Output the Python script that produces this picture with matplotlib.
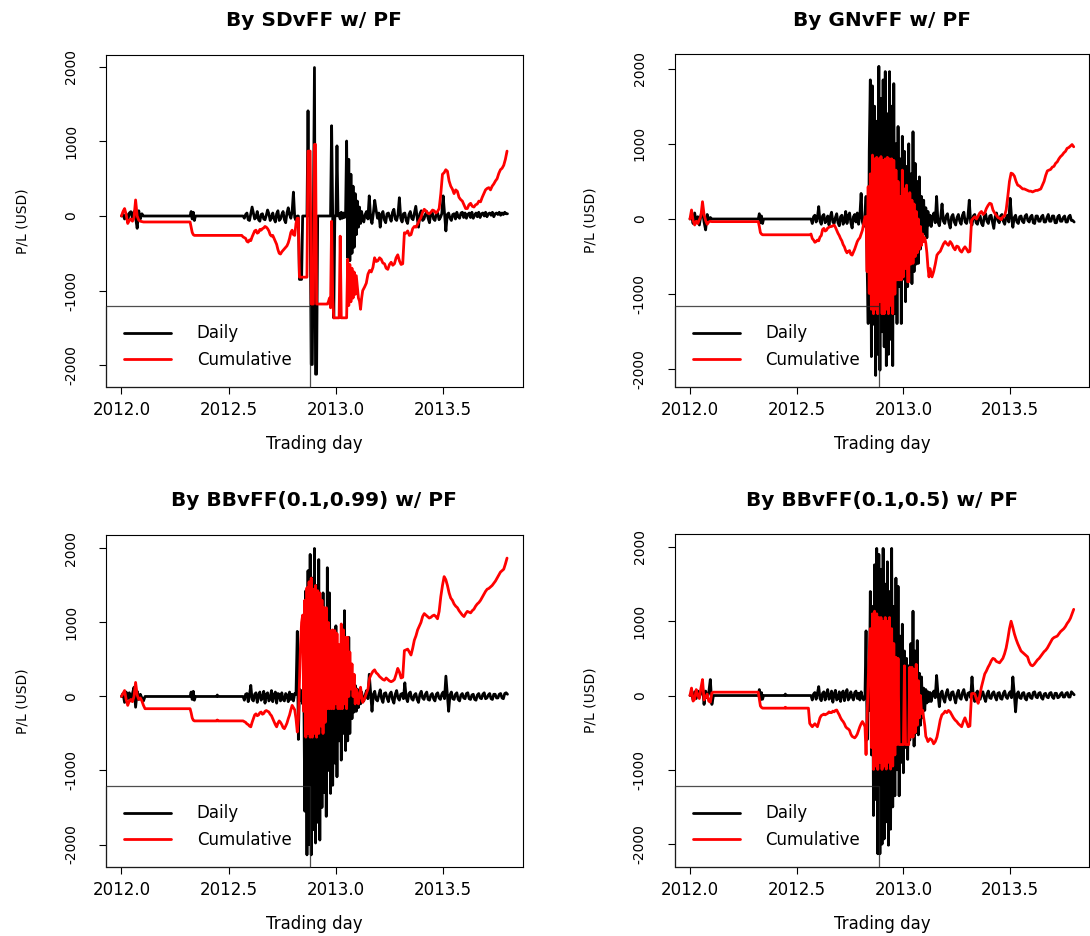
import numpy as np
import matplotlib
matplotlib.use("Agg")
import matplotlib.pyplot as plt

plt.rcParams['font.family'] = ['DejaVu Sans']
plt.rcParams['axes.unicode_minus'] = False

# date ranges (decimal year) of the trading stretches; each list below is spread evenly over its range
EARLY = (2012.0, 2012.11)
MID = (2012.32, 2012.345)
DOT = (2012.444, 2012.450)
CALM = (2012.555, 2012.82)
BURST = (2012.825, 2013.125)
LATE_D = (2013.13, 2013.80)
LATE_C = (2013.134, 2013.798)
DAILY_SEGS = [EARLY, MID, DOT, CALM, BURST, LATE_D]
CUM_SEGS = [EARLY, MID, DOT, CALM, BURST, LATE_C]

titles = ["By SDvFF w/ PF", "By GNvFF w/ PF",
          "By BBvFF(0.1,0.99) w/ PF", "By BBvFF(0.1,0.5) w/ PF"]
x_ticks = [2012.0, 2012.5, 2013.0, 2013.5]
y_ticks = [-2000, -1000, 0, 1000, 2000]

# ---- SDvFF ----
sd_daily = [
    [0, 20, -40, 30, -60, 40, 58, -30, 60, -20, -165, 70, -40, 30, 0, 0],
    [0, 60, -40, 50, -60, 0],
    [0, 0, 0],
    [0, 0, 0, -30, 20, 40, -50, -60, 30, 120,
     40, -40, -20, 60, -50, -70, 20, 30, -40, -50,
     10, 80, 30, -60, -20, 40, -40, -80, 30, 70,
     -60, -40, 20, 60, -50, -90, 40, 110, 20, -30,
     60, 320, -20, -60, 0],
    [0, -850, -850, -850, 0, 0, 0, 0, 0,
     1410, 0, 0, -1990, -1990, 0, 1990, -2120, -2120, 0,
     0, 0, 0, 0, 0, 0, 0, 0, 0, 0, 0, 0,
     1210, 0, -1365, 0, 0, 940,
     0, 30, -40, 50, -30, 40, -20, 0,
     1005, -560, 760, -600, 560, -500, 400, -420, 300, -250, 200, -150, 120, -100, 60, -40],
    [-80, 20, 60, -40, 270, -30, -100, 40, 210, 80,
     -30, 40, -150, 20, 60, -50, -90, 30, 40, -20,
     -70, 50, 90, -40, -60, 20, 245, -30, -80, 30,
     40, -60, -100, 20, 60, -30, -50, 40, 130, -20,
     -150, 30, 70, -60, -40, 20, 60, -30, -90, 40,
     50, -40, -60, 30, 40, -50, -20, 30, 270, 40,
     -200, 20, 40, -30, -60, 20, 30, -40, 50, -10,
     -30, 40, 50, -20, 40, -30, 20, 40, -20, 50,
     -30, 10, 40, -10, 50, -20, 30, 40, 0, 50,
     -10, 30, 40, 10, 50, -10, 30, 40, 20, 50,
     10, 40, 20, 50, 30, 30],
]
sd_cum = [
    [0, 60, 100, 20, -100, -60, -40, -70, -20, 215, 0, -55, -70, -75, -80, -80],
    [-80, -150, -220, -250, -260, -260],
    [-260, -260, -260],
    [-260, -260, -280, -290, -300, -340, -350, -320, -330, -280,
     -240, -200, -190, -230, -220, -180, -190, -170, -160, -140,
     -150, -170, -200, -250, -270, -260, -300, -340, -380, -450,
     -500, -510, -480, -460, -440, -420, -400, -360, -300, -220,
     -190, -250, -260, -100, -30],
    [-30,
     -820, -820, -820, -820, -820, -820, -820, -820,
     870, 870, 870, -1180, -1180, -1180, 960, 960, -1180, -1180,
     -1180, -1180, -1180, -1180, -1180, -1180, -1180, -1180, -1180, -1150,
     -1100, -1230, -70, -1100, -1365, -1365, -1365, -1365, -1365, -1365,
     -270, -1365, -1365, -1365, -1365, -1365, -1365, -580, -1200, -650,
     -1150, -700, -1100, -750, -1050, -800, -950, -1100, -1140, -1250,
     -1100, -1000],
    [-950, -900, -780, -730, -750, -690, -560, -610, -600, -560,
     -580, -630, -640, -700, -715, -650, -620, -660, -640, -560,
     -520, -600, -650, -640, -225, -230, -200, -260, -250, -170,
     -140, -150, -110, -60, -20, 50, 90, 70, 40, 30,
     50, 80, 70, 40, 60, 100, 300, 560, 580, 620,
     600, 470, 400, 360, 300, 350, 330, 250, 220, 200,
     150, 100, 100, 150, 170, 130, 120, 150, 160, 200,
     190, 250, 300, 350, 370, 380, 350, 400, 430, 470,
     500, 570, 620, 640, 680, 760, 870],
]

# ---- GNvFF ----
gn_daily = [
    [0, 40, -60, 80, -40, 30, -80, 50, 120, -40, -145, 60, -30, 20, 0, 0],
    [0, 70, -50, 40, -60, 0],
    [0, 0, 0],
    [0, 0, 0, -60, 30, 50, -40, 20, 165, -30,
     -70, 40, 60, -50, -20, 40, -80, 30, 90, -40,
     -60, 20, 70, -50, -90, 30, 50, -70, -20, 100,
     -60, 40, 80, -50, -120, 30, 60, -40, 80, -70,
     40, 340, -40, -100, 0],
    [300, -600, -1390, 900, 1850, -1830, 1770, -1400, 1500, -2080,
     1300, -1800, 2030, -2010, 1600, -1500, 1850, -1700, 1960, -1950,
     1400, -1800, 1960, -1600, 1500, -1950, 1800, -1260, 1000, -1390,
     1230, -900, 800, -1390, 1100, -800, 900, -1100, 700, -900,
     1000, -700, 600, -860, 1160, -700, 740, -600, 500, -590,
     560, -400, 300, -300, 250, -200, 150, -250, 100, -80,
     50],
    [-100, 30, 80, -50, 300, -40, -90, 20, 200, -30,
     -60, 40, 70, -50, -120, 30, 60, -40, -80, 20,
     60, -30, -70, 50, 90, -40, -60, 30, 250, -50,
     -80, 40, 60, -50, -70, 20, 40, -60, -90, 30,
     70, -30, -60, 40, 50, -40, -125, 30, 80, -20,
     -50, 40, 60, -30, -70, 20, 50, -40, 275, 30,
     -110, 20, 50, -40, -60, 30, 40, -30, -50, 40,
     60, -20, -40, 30, 50, -50, -60, 40, 40, -30,
     -30, 30, 50, -40, -40, 20, 60, -30, -30, 40,
     40, -50, -50, 30, 50, -30, -30, 20, 40, -40,
     -40, 30, 50, -20, -20, -40],
]
gn_cum = [
    [0, 120, -20, -80, -30, -60, -10, 40, 230, 60, -20, -70, -40, -30, -35, -35],
    [-35, -100, -180, -200, -210, -210],
    [-210, -210, -210],
    [-210, -210, -200, -260, -280, -310, -300, -280, -290, -240,
     -220, -140, -125, -160, -150, -120, -110, -100, -100, -90,
     -80, -110, -150, -190, -220, -260, -290, -340, -370, -420,
     -450, -430, -420, -470, -480, -440, -400, -350, -300, -270,
     -250, -200, -150, -60, 30],
    [30, -700, 430, -990, 600, -1200, 850, -1260, 800, -1200,
     820, -1260, 800, -1100, 830, -1260, 780, -1260, 800, -1200,
     820, -1260, 800, -1150, 800, -1260, 780, -1000, 650, -810,
     500, -810, 300, -810, 650, -770, 400, -660, 450, -835,
     -835, 350, -600, 250, -590, 200, -500, 100, -450, 0,
     -400, -100, -350, -200, -300, -250, -320, -450, -640, -770,
     -660],
    [-770, -700, -600, -480, -450, -430, -380, -330, -300, -330,
     -350, -300, -330, -380, -410, -360, -370, -420, -440, -400,
     -370, -400, -440, -430, -20, 10, 30, 0, 40, 80,
     100, 60, 80, 140, 180, 210, 200, 120, 80, 50,
     20, 10, -10, 30, 40, 120, 300, 500, 610, 600,
     570, 500, 450, 440, 420, 400, 400, 390, 380, 370,
     370, 360, 370, 380, 380, 390, 400, 450, 500, 580,
     640, 650, 660, 690, 700, 740, 760, 800, 830, 850,
     880, 900, 940, 950, 970, 990, 960],
]

# ---- BBvFF(0.1,0.99) ----
bb99_daily = [
    [0, 40, -80, 60, -30, 50, -60, 40, 125, -145, 70, -40, 30, -20, -60, 0],
    [0, 60, -40, 70, -50, 0],
    [0, 20, 0],
    [0, 0, 0, -50, 30, 40, -70, 20, 150, -40,
     -60, 30, 50, -80, 20, 60, -50, -20, 70, -90,
     30, 50, -60, -30, 80, -70, 20, 60, -90, 40,
     30, -60, 50, -40, -60, 40, 20, -70, 60, -40,
     30, -60, 40, 30, 880],
    [-580, 100, -50, 80, -100, 200, -1550, 1430, -2140, 1700,
     -2000, 1920, -2140, 1600, -1800, 2000, -1980, 1500, -1700, 1850,
     -1940, 1200, -1500, 1400, -1300, 1000, -1620, 1740, -1000, 1400,
     -1310, 800, -1200, 600, -900, 955, -1085, 700, -600, 500,
     -860, 400, -500, 1160, -730, 600, -600, 800, -500, 400,
     -300, 250, -210, 150, -200, 100, -150, 80, -100, 60,
     -50],
    [-60, 20, 80, -30, 300, 40, -200, 30, 70, -40,
     -60, 20, 90, -30, -80, 40, 50, -20, -70, 30,
     60, -40, -90, 30, 80, -20, -50, 30, 40, -30,
     185, -20, -70, 40, 60, -30, -50, 20, 40, -40,
     -80, 30, 70, -20, -40, 30, 60, -40, -50, 20,
     40, -30, -60, 30, 50, -20, -40, 30, 60, -30,
     275, 40, -200, 20, 60, -30, -40, 30, 50, -40,
     -60, 20, 40, -20, -30, 40, 50, -30, -40, 20,
     30, -40, -50, 20, 40, -20, -30, 30, 50, -30,
     -20, 20, 40, -30, -40, 30, 30, -20, -20, 30,
     40, -20, -30, 40, 50, 30],
]
bb99_cum = [
    [0, 40, 80, -40, -120, -60, -40, -70, 0, 190, 20, -40, -20, -60, -120, -165],
    [-165, -220, -290, -320, -330, -330],
    [-330, -318, -330],
    [-330, -330, -330, -340, -350, -370, -380, -400, -410, -350,
     -300, -250, -235, -260, -250, -220, -210, -240, -230, -200,
     -190, -200, -210, -240, -260, -300, -340, -380, -410, -360,
     -330, -350, -380, -420, -435, -400, -360, -300, -250, -180,
     -120, -150, -180, -300, -480],
    [-300, 200, 700, 1000, 1100, -200, 1300, -550, 1470, -500,
     1550, -550, 1600, -550, 1450, -500, 1500, -550, 1430, -500,
     1400, -400, 1300, -500, 1200, -350, 1200, -165, 1000, -165,
     890, -165, 900, -165, 890, -100, 850, -165, 700, -165,
     980, -165, 900, -100, 800, -165, 800, 0, 600, 100,
     440, 0, 300, -100, 100, 35, -100, 0, 125, 0,
     -80],
    [-30, 40, 100, 250, 300, 340, 360, 320, 300, 270,
     250, 230, 220, 250, 230, 210, 200, 210, 230, 300,
     380, 330, 250, 260, 620, 630, 640, 600, 560, 650,
     760, 820, 900, 950, 1000, 1080, 1120, 1100, 1080, 1060,
     1070, 1090, 1100, 1080, 1050, 1150, 1350, 1500, 1620, 1580,
     1500, 1400, 1330, 1300, 1250, 1220, 1200, 1160, 1130, 1100,
     1080, 1120, 1150, 1140, 1130, 1160, 1180, 1220, 1250, 1270,
     1300, 1340, 1380, 1420, 1450, 1460, 1480, 1500, 1530, 1560,
     1600, 1640, 1680, 1700, 1720, 1790, 1870],
]

# ---- BBvFF(0.1,0.5) ----
bb5_daily = [
    [0, 30, -60, 50, -40, 60, -20, 40, 125, -120, 60, -30, 40, 215, -120, 0],
    [0, 80, -60, 40, -50, 0],
    [0, 20, 0],
    [0, 0, 0, -60, 20, 40, -50, 30, 120, -40,
     -70, 30, 50, -60, 20, 80, -50, -30, 60, -90,
     20, 70, -60, -40, 50, -80, 30, 60, -70, 20,
     80, -60, -30, 50, -20, -60, 40, 60, -40, 30,
     -60, 50, -30, -60, 0],
    [870, -595, 300, -200, 1400, -800, 1200, -1615, 1760, -1400,
     1980, -2130, 1900, -2130, 1700, -2000, 1980, -1930, 1500, -1700,
     1800, -2015, 1400, -1800, 1980, -1500, 1200, -1350, 1580, -1000,
     1470, -1350, 800, -900, 960, -1040, 600, -700, 500, -860,
     400, -600, 700, -500, 1135, -680, 600, -500, 740, -530,
     300, -400, 250, -300, 100, -200, 80, -100, 50, -80,
     40],
    [-80, 20, 60, -30, 270, 30, -150, 20, 60, -40,
     -90, 30, 80, -20, -60, 40, 50, -30, -100, 20,
     70, -30, -50, 40, 80, -20, -60, 30, 40, -30,
     250, -20, -80, 30, 60, -40, -50, 20, 50, -30,
     -80, 20, 60, -30, -40, 30, 50, -20, -60, 30,
     40, -40, -50, 30, 60, -20, -40, 20, 50, -30,
     250, 30, -220, 20, 50, -30, -40, 30, 40, -40,
     -60, 20, 30, -30, -40, 40, 50, -20, -30, 30,
     40, -30, -50, 20, 30, -20, -30, 30, 40, -20,
     -40, 30, 30, -30, -20, 20, 40, -20, -20, 30,
     40, -20, -20, 50, 30, 10],
]
bb5_cum = [
    [0, 100, -75, -50, 80, 0, -40, 100, 215, -60, -20, 20, -75, -90, 35, 45],
    [45, -50, -140, -160, -170, -170],
    [-170, -158, -170],
    [-170, -375, -400, -420, -400, -380, -400, -420, -360, -300,
     -270, -260, -250, -260, -250, -240, -220, -230, -230, -210,
     -220, -200, -195, -230, -260, -300, -330, -350, -380, -420,
     -440, -450, -470, -520, -550, -560, -570, -550, -520, -470,
     -420, -380, -350, -380, -420],
    [-795, -300, 200, 600, 900, -700, 1100, -995, 1135, -950,
     1100, -995, 1050, -900, 1050, -995, 1000, -950, 1050, -990,
     1000, -900, 1050, -990, 900, -950, 700, -800, 515, -660,
     500, -660, -660, -660, -660, -660, 400, -660, -660, -660,
     -660, 380, -560, 380, -560, 350, -500, 420, -400, 200,
     -300, 0, -240, -200, -300, -400, -550, -580, -620, -600,
     -580],
    [-600, -650, -620, -560, -450, -330, -260, -240, -210, -230,
     -200, -220, -260, -300, -330, -350, -380, -400, -420, -350,
     -300, -360, -420, -410, 25, 30, 20, -50, -105, 0,
     115, 200, 290, 330, 380, 420, 470, 500, 490, 460,
     450, 440, 470, 500, 560, 640, 760, 900, 1000, 920,
     830, 760, 700, 650, 600, 580, 560, 540, 520, 450,
     410, 400, 420, 450, 480, 500, 530, 560, 590, 610,
     640, 680, 720, 760, 780, 790, 800, 830, 860, 880,
     900, 930, 970, 1000, 1040, 1100, 1160],
]


def build(segs, parts):
    xs, ys = [], []
    for (a, b), vals in zip(segs, parts):
        xs.append(np.linspace(a, b, len(vals)))
        ys.append(np.asarray(vals, dtype=float))
    return np.concatenate(xs), np.concatenate(ys)


W, H = 1090, 936
fig = plt.figure(figsize=(W / 100, H / 100), dpi=100)

# axes boxes in pixels: left, top, right, bottom
boxes = [(106, 55, 522.7, 387), (674.6, 54, 1089.3, 387),
         (106, 535, 522.7, 867), (674.6, 534, 1089.3, 867)]
ylims = [(-2292, 2158), (-2234, 2194), (-2304, 2182), (-2308, 2174)]
series = [(sd_daily, sd_cum), (gn_daily, gn_cum),
          (bb99_daily, bb99_cum), (bb5_daily, bb5_cum)]

for (l, t, r, b), title, ylim, (daily, cum) in zip(boxes, titles, ylims, series):
    ax = fig.add_axes([l / W, 1 - b / H, (r - l) / W, (b - t) / H])
    xd, yd = build(DAILY_SEGS, daily)
    xc, yc = build(CUM_SEGS, cum)
    ax.plot(xd, yd, color='black', lw=2.0, label='Daily',
            solid_joinstyle='round', solid_capstyle='round')
    ax.plot(xc, yc, color='#ff0000', lw=2.0, label='Cumulative',
            solid_joinstyle='round', solid_capstyle='round')

    ax.set_xlim(2011.928, 2013.871)
    ax.set_ylim(*ylim)
    ax.set_xticks(x_ticks)
    ax.set_xticklabels(['%.1f' % v for v in x_ticks])
    ax.set_yticks(y_ticks)
    ax.set_yticklabels([str(v) for v in y_ticks])
    ax.tick_params(axis='both', direction='out', length=5, width=0.8, color='black')
    ax.tick_params(axis='x', labelsize=12, pad=5)
    ax.tick_params(axis='y', labelsize=10, pad=15, labelrotation=90)
    for lab in ax.get_yticklabels():
        lab.set_va('center')
    for sp in ax.spines.values():
        sp.set_linewidth(0.8)
        sp.set_color('black')

    hpx = b - t
    wpx = r - l
    ax.set_title(title, fontsize=14.5, fontweight='bold', y=1 + 34 / hpx, va='center', pad=0)
    ax.set_xlabel('Trading day', fontsize=12)
    ax.xaxis.set_label_coords(0.5, -57 / hpx)
    ax.xaxis.label.set_va('center')
    ax.set_ylabel('P/L (USD)', fontsize=10)
    ax.yaxis.set_label_coords(-84 / wpx, 0.5)
    ax.yaxis.label.set_va('center')

    leg = ax.legend(loc='lower left', borderaxespad=0, fancybox=False,
                    edgecolor='#222222', facecolor='none',
                    fontsize=12, borderpad=1.1, labelspacing=0.5,
                    handlelength=2.8, handletextpad=1.55)
    leg.get_frame().set_linewidth(0.9)

fig.savefig('out.png', dpi=100)
